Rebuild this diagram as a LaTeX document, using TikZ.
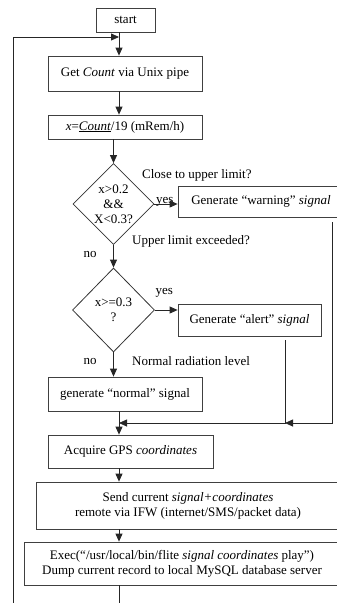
\documentclass[tikz,border=0pt]{standalone}
\usepackage{fontspec}
\setmainfont{Liberation Serif}
\usepackage{tikz}
\usetikzlibrary{shapes.geometric,calc}
\usetikzlibrary{arrows.meta}
\tikzset{>={Triangle[length=8pt,width=7pt]}}
\tikzstyle{box}=[draw=black!75,line width=0.8pt,rectangle,inner sep=2pt,align=center]
\tikzstyle{test}=[draw=black!80,line width=0.8pt,diamond,aspect=1,inner sep=0pt,align=center]
\tikzstyle{lbl}=[inner sep=0pt]
\tikzstyle{flow}=[->,black!85,line width=0.8pt]

\begin{document}
\begin{tikzpicture}[x=1pt,y=-1pt,every node/.style={font=\fontsize{13}{15}\selectfont}]
  \useasboundingbox (0,0) rectangle (337,603);
  \clip (0,0) rectangle (337,603);

  \coordinate (axis) at (119,0); % main column of the boxes
  \coordinate (wdrop) at (332,423);
  \coordinate (adrop) at (285,423);
  \coordinate (merge) at (119,423);
  \coordinate (loopbot) at (13,620);
  \coordinate (looptop) at (119,37);

  \node[box,minimum width=59pt,minimum height=24pt] (start) at (125.5,20) {start};
  \node[box,minimum width=154pt,minimum height=35pt] (get) at (125,73.5) {Get \textit{Count} via Unix pipe};
  \node[box,minimum width=154pt,minimum height=24pt] (conv) at (125,127) {\textit{x}=\underline{\textit{Count}}/19 (mRem/h)};
  \node[test,minimum width=81pt,minimum height=81pt] (warntest) at (113.5,204) {x>0.2\\\&\&\\X<0.3?};
  \node[box,minimum width=166pt,minimum height=31pt] (warn) at (261,201.5) {Generate “warning” \textit{signal}};
  \node[test,minimum width=82pt,minimum height=84pt] (alerttest) at (113.5,310) {x>=0.3\\?};
  \node[box,minimum width=143pt,minimum height=32pt] (alert) at (249.5,320) {Generate “alert” \textit{signal}};
  \node[box,minimum width=154pt,minimum height=34pt] (normal) at (125,394) {generate “normal” signal};
  \node[box,minimum width=165pt,minimum height=33pt] (gps) at (130.5,451.5) {Acquire GPS \textit{coordinates}};
  \node[box,minimum width=304pt,minimum height=47pt] (send) at (188,505.5) {Send current \textit{signal+coordinates}\\remote via IFW (internet/SMS/packet data)};
  \node[box,minimum width=316pt,minimum height=43pt] (exec) at (182,563.5) {Exec(“/usr/local/bin/flite \textit{signal coordinates} play”)\\Dump current record to local MySQL database server};

  % labels round the tests
  \node[lbl,anchor=west] (q1) at ($(warntest.north)+(28.5,12)$) {Close to upper limit?};
  \node[lbl,anchor=base west] (yes1) at ($(warntest.east)+(1.5,-1)$) {yes};
  \node[lbl,anchor=west] (q2) at ($(warntest.south)+(18.5,-4)$) {Upper limit exceeded?};
  \node[lbl] (no1) at ($(warntest.south)+(-23.5,9.5)$) {no};
  \node[lbl,anchor=base west] (yes2) at ($(alerttest.east)+(0.5,-16)$) {yes};
  \node[lbl] (no2) at ($(alerttest.south)+(-23.5,9)$) {no};
  \node[lbl,anchor=west] (q3) at ($(alerttest.south)+(18.5,9)$) {Normal radiation level};

  \draw[flow] (start.south -| axis) -- (get.north -| axis);
  \draw[flow] (get.south -| axis) -- (conv.north -| axis);
  \draw[flow] (conv.south -| warntest.north) -- (warntest.north);
  \draw[flow] (warntest.east) -- (warntest.east -| warn.west);
  \draw[flow] (warntest.south) -- (alerttest.north);
  \draw[flow] (alerttest.east) -- (alerttest.east -| alert.west);
  \draw[flow] (alerttest.south) -- (normal.north -| alerttest.south);
  \draw[flow] (warn.south -| wdrop) ++(0,5) |- (adrop);
  \draw[flow] (alert.south -| adrop) ++(0,4) |- (merge);
  \draw[flow] (normal.south -| axis) -- (gps.north -| axis);
  \draw[flow] (gps.south -| axis) -- (send.north -| axis);
  \draw[flow] (send.south -| axis) -- (exec.north -| axis);
  \draw[flow] (exec.south -| axis) |- (loopbot) |- (looptop); % back to the top
\end{tikzpicture}
\end{document}
